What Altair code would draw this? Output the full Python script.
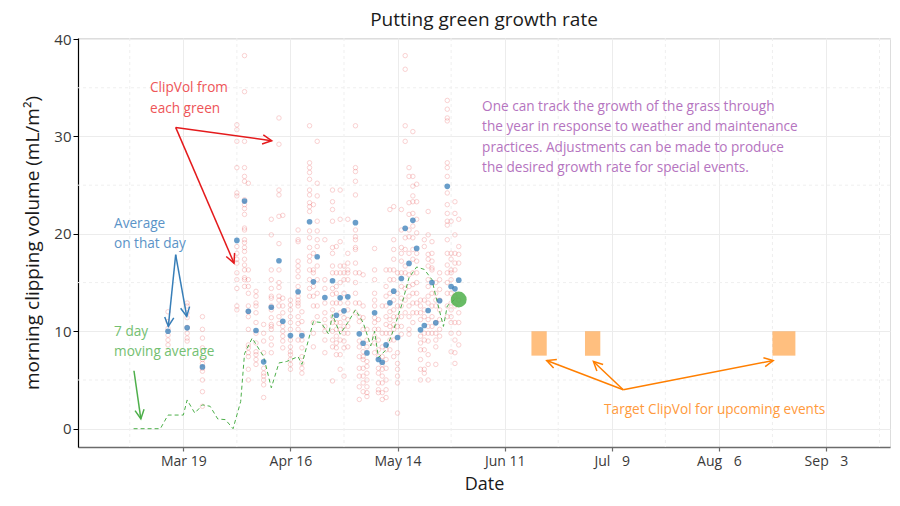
import math
import pandas as pd
import altair as alt

FONT = "Open Sans"
BASE = pd.Timestamp("2021-03-19")

# ---------------- data ----------------
day_dates = ["2021-03-15", "2021-03-20", "2021-03-24", "2021-04-02", "2021-04-04", "2021-04-05",
             "2021-04-07", "2021-04-09", "2021-04-11", "2021-04-13", "2021-04-14", "2021-04-16",
             "2021-04-18", "2021-04-19", "2021-04-21", "2021-04-22", "2021-04-23", "2021-04-25",
             "2021-04-27", "2021-04-28", "2021-04-29", "2021-04-30", "2021-05-01", "2021-05-03",
             "2021-05-04", "2021-05-05", "2021-05-06", "2021-05-08", "2021-05-09", "2021-05-10",
             "2021-05-11", "2021-05-12", "2021-05-13", "2021-05-14", "2021-05-15", "2021-05-16",
             "2021-05-17", "2021-05-18", "2021-05-19", "2021-05-20", "2021-05-21", "2021-05-22",
             "2021-05-23", "2021-05-24", "2021-05-25", "2021-05-27", "2021-05-28", "2021-05-29",
             "2021-05-30"]

day_average = [10.0, 10.35, 6.34, 19.33, 23.37, 12.06, 10.08, 6.86, 12.47, 17.24, 11.03, 9.56,
               14.06, 9.56, 21.25, 15.08, 17.65, 13.47, 15.19, 11.65, 13.44, 12.1, 13.54, 21.15,
               9.74, 8.77, 7.78, 11.9, 7.1, 6.82, 8.6, 12.92, 14.12, 9.36, 15.42, 20.57,
               16.97, 21.39, 18.51, 10.15, 10.59, 12.13, 15.01, 10.87, 13.13, 24.88, 14.6, 14.36,
               15.25]

green_values = [
    [12.0, 11.0, 10.3, 9.6, 9.1, 8.6],
    [12.9, 12.6, 11.9, 11.4, 10.4, 9.8, 9.3, 9.0],
    [11.5, 10.2, 9.3, 8.3, 7.1, 6.7, 6.2, 5.9, 5.0, 3.8, 2.3],
    [31.2, 30.7, 29.5, 26.8, 24.2, 23.9, 18.7, 18.0, 17.4, 17.0, 16.0, 15.3, 14.4, 12.6, 12.2],
    [38.3, 34.6, 29.5, 26.8, 25.9, 25.4, 23.5, 23.0, 22.6, 22.0, 20.6, 20.4, 19.4, 19.1, 18.6,
     18.2, 17.4, 16.8, 16.3, 15.5, 15.3, 14.6],
    [25.2, 16.3, 15.3, 14.6, 13.9, 12.6, 12.0, 11.5, 10.2, 8.6, 8.3, 7.8, 7.4, 6.1, 5.0],
    [14.1, 13.6, 12.9, 12.6, 11.9, 10.9, 9.8, 8.8, 7.9, 7.6, 7.1, 6.6],
    [10.7, 9.8, 9.0, 7.8, 6.2, 5.7, 5.4, 5.0, 4.5, 3.2],
    [21.5, 19.9, 16.3, 15.3, 14.4, 13.6, 13.4, 12.6, 12.2, 11.4, 10.7, 10.5, 10.2, 9.3, 8.6, 7.8],
    [31.9, 29.2, 24.5, 24.0, 21.8, 19.0, 16.3, 15.0, 14.5, 13.6, 13.2, 12.6, 11.5, 10.8],
    [21.9, 13.4, 12.6, 11.9, 10.5, 10.0, 9.5, 9.0, 8.3],
    [13.2, 12.7, 12.2, 11.5, 10.9, 10.2, 9.1, 8.4, 7.9, 7.6, 7.1, 6.6, 6.1],
    [20.4, 19.4, 19.2, 17.2, 16.7, 16.2, 15.6, 14.6, 13.6, 13.2, 12.9, 12.6, 11.5, 10.8, 10.2, 9.1],
    [12.0, 11.0, 9.8, 9.1, 8.3, 7.4, 6.7, 6.2, 5.7],
    [31.1, 27.3, 26.8, 26.3, 25.6, 24.5, 24.0, 23.2, 22.8, 22.3, 20.3, 19.6, 18.6, 17.7, 17.2,
     16.3, 15.3, 14.4, 13.6],
    [23.0, 18.0, 16.3, 16.0, 14.6, 13.6, 12.6, 10.9, 9.8, 8.4],
    [29.5, 25.2, 23.9, 21.3, 20.3, 19.4, 18.7, 16.7, 15.3, 13.9, 12.6, 11.5],
    [19.4, 15.3, 14.4, 12.9, 11.9, 11.2, 10.5, 10.0, 9.1, 7.8],
    [24.5, 23.3, 22.5, 21.3, 18.6, 18.0, 16.7, 16.0, 14.4, 13.8, 12.9, 12.2, 11.5, 10.9, 10.0,
     9.1, 8.4, 4.9],
    [18.7, 16.0, 14.6, 13.9, 12.9, 10.9, 10.2, 9.5, 8.8, 8.3, 7.6],
    [24.5, 21.5, 19.2, 16.7, 16.0, 15.0, 12.9, 11.9, 10.9, 10.2, 9.1, 7.6, 6.1],
    [16.7, 16.0, 15.3, 13.9, 11.4, 10.5, 9.8, 9.0, 8.3, 5.4],
    [21.5, 18.0, 17.0, 16.3, 16.0, 15.3, 12.9, 12.2, 11.2, 10.5, 9.8, 8.4],
    [31.1, 26.8, 26.4, 25.4, 24.0, 20.4, 19.7, 19.4, 18.6, 18.4, 17.0, 16.0, 15.0, 13.9, 12.9, 11.9],
    [16.0, 12.9, 11.5, 11.0, 9.0, 8.4, 7.4, 6.2, 5.4, 4.3, 3.0],
    [15.8, 12.6, 11.4, 10.2, 7.9, 7.4, 7.1, 6.2, 5.4, 4.7, 3.8],
    [10.2, 9.1, 8.4, 6.9, 6.4, 5.7, 5.0, 4.3, 3.7, 3.3],
    [18.5, 16.3, 15.3, 13.9, 13.2, 12.6, 11.4, 10.9, 10.2, 9.5, 8.8, 7.8],
    [11.2, 10.2, 9.1, 8.1, 7.4, 6.2, 5.7, 4.7, 4.0, 3.7],
    [12.6, 9.8, 8.4, 7.4, 6.6, 6.1, 5.4, 4.7, 3.7, 3.0],
    [16.3, 14.6, 13.6, 12.6, 11.5, 10.7, 9.8, 8.1, 7.1, 6.2, 5.0, 4.0, 3.2],
    [22.5, 16.3, 15.3, 13.9, 12.0, 11.2, 10.5, 9.8, 9.1, 8.1],
    [22.8, 19.4, 18.4, 17.4, 16.3, 15.3, 13.2, 12.2, 11.5, 10.7, 10.2, 9.1, 7.4],
    [16.0, 13.9, 12.6, 11.5, 10.5, 7.8, 6.7, 6.1, 5.4, 4.7, 1.6],
    [22.5, 20.4, 18.6, 18.0, 17.2, 16.0, 14.6, 13.4, 12.6, 11.5, 10.5, 9.7],
    [38.3, 36.9, 31.1, 29.5, 19.6, 18.4, 16.7, 16.0, 14.4, 13.2, 11.9],
    [26.8, 25.9, 23.2, 22.0, 20.4, 19.7, 18.0, 15.8, 14.6, 13.6, 12.6, 11.5, 10.2, 9.7],
    [30.5, 25.9, 24.9, 23.9, 23.3, 22.1, 20.8, 19.6, 18.4, 17.4, 16.0, 14.8, 13.9, 12.9, 11.9, 10.9],
    [25.1, 23.3, 21.5, 20.1, 18.0, 17.2, 16.0, 15.0, 13.9, 12.9, 11.9],
    [13.2, 12.6, 11.9, 11.2, 9.5, 8.8, 8.1, 7.1, 6.1, 5.0],
    [19.4, 18.7, 13.2, 12.2, 11.5, 9.8, 9.1, 8.1, 6.1, 5.7],
    [22.3, 19.9, 17.9, 17.4, 16.7, 15.3, 14.6, 13.6, 12.9, 11.2, 10.5, 9.8, 9.0, 7.6, 6.6, 5.0],
    [19.2, 18.0, 17.2, 16.5, 16.3, 13.9, 12.6, 11.5, 10.5, 9.8],
    [15.0, 13.9, 13.2, 12.6, 10.9, 9.8, 9.1, 8.4, 6.6],
    [16.0, 15.3, 14.3, 13.2, 12.2, 11.2, 10.2, 9.5],
    [33.7, 32.8, 31.9, 31.6, 27.3, 26.8, 25.9, 24.2, 23.0, 22.1, 21.3, 20.9, 19.4, 18.0, 16.8,
     16.0, 15.0, 13.9, 12.6, 11.5],
    [21.3, 18.0, 17.4, 16.3, 16.0, 15.3, 13.9, 12.9, 12.2, 11.5, 10.9, 9.8, 7.9],
    [23.3, 22.1, 19.9, 18.0, 17.0, 16.3, 13.6, 12.6, 10.9, 9.1, 7.8, 6.7],
    [21.5, 18.7, 17.9, 17.0, 13.2, 11.9, 10.9, 9.8, 8.6],
]

ma_dates = ["2021-03-06", "2021-03-13", "2021-03-15", "2021-03-19", "2021-03-20", "2021-03-22",
            "2021-03-24", "2021-03-26", "2021-03-28", "2021-03-30", "2021-04-01", "2021-04-03",
            "2021-04-04", "2021-04-06", "2021-04-09", "2021-04-11", "2021-04-13", "2021-04-15",
            "2021-04-18", "2021-04-19", "2021-04-22", "2021-04-24", "2021-04-26", "2021-04-27",
            "2021-04-29", "2021-05-01", "2021-05-03", "2021-05-05", "2021-05-07", "2021-05-08",
            "2021-05-09", "2021-05-11", "2021-05-13", "2021-05-15", "2021-05-17", "2021-05-19",
            "2021-05-21", "2021-05-23", "2021-05-24", "2021-05-26", "2021-05-27", "2021-05-29"]
ma_values = [0, 0, 1.4, 1.4, 2.95, 1.6, 2.45, 2.3, 1.0, 0.93, 0, 2.8,
             7.7, 9.3, 7.4, 4.2, 6.75, 6.9, 7.4, 6.6, 11.0, 10.9, 9.7, 11.7,
             9.7, 10.9, 12.2, 10.9, 8.5, 10.0, 7.3, 8.1, 10.2, 12.6, 15.5, 16.6,
             16.35, 15.3, 13.6, 10.5, 12.6, 13.3]

latest_date = ["2021-05-30"]
latest_value = [13.26]

target_start = ["2021-06-18", "2021-07-02", "2021-08-20"]
target_end = ["2021-06-22", "2021-07-06", "2021-08-26"]
target_low = [7.5, 7.5, 7.5]
target_high = [10.0, 10.0, 10.0]

# annotations (x as days from Mar 19, y in data units)
arrow_x0 = [-2.0, -2.0, -2.0, -2.0, -12.9, 115.0, 115.0, 115.0]
arrow_y0 = [30.93, 30.93, 17.86, 17.86, 5.95, 4.0, 4.0, 4.0]
arrow_x1 = [23.1, 13.25, -3.92, 0.89, -11.1, 95.0, 107.2, 154.2]
arrow_y1 = [29.57, 17.0, 10.5, 11.53, 1.0, 7.0, 6.9, 7.0]
arrow_col = ["#e41a1c", "#e41a1c", "#377eb8", "#377eb8", "#4daf4a", "#ff7f00", "#ff7f00", "#ff7f00"]

note_text = ["ClipVol from", "each green", "Average", "on that day", "7 day", "moving average",
             "One can track the growth of the grass through",
             "the year in response to weather and maintenance",
             "practices. Adjustments can be made to produce",
             "the desired growth rate for special events.",
             "Target ClipVol for upcoming events"]
note_x = [-8.7, -8.7, -18.1, -18.1, -18.1, -18.1, 78.1, 78.1, 78.1, 78.1, 110.0]
note_y = [35.0, 32.85, 21.05, 19.0, 9.96, 7.9, 33.06, 31.0, 28.85, 26.8, 1.95]
note_col = ["#ee5558", "#ee5558", "#5b93c7", "#5b93c7", "#74c071", "#74c071",
            "#b574c0", "#b574c0", "#b574c0", "#b574c0", "#ff9a3c"]

major_ticks = ["2021-03-19", "2021-04-16", "2021-05-14", "2021-06-11", "2021-07-09", "2021-08-06",
               "2021-09-03"]
minor_x = ["2021-03-05", "2021-04-02", "2021-04-30", "2021-05-28", "2021-06-25", "2021-07-23",
           "2021-08-20", "2021-09-17"]
minor_y = [5, 15, 25, 35]

# ---------------- geometry ----------------
W, H = 812, 409
X_LO, X_HI = -27.53, 184.73  # days from Mar 19
Y_LO, Y_HI = -1.88, 40.11
px_day = W / (X_HI - X_LO)
px_val = H / (Y_HI - Y_LO)


def iso(d):
    return pd.Timestamp(d).strftime("%Y-%m-%dT%H:%M:%SZ")


def iso_off(off):
    return (BASE + pd.Timedelta(days=off)).strftime("%Y-%m-%dT%H:%M:%SZ")


def ms(off):
    return float((BASE + pd.Timedelta(days=off) - pd.Timestamp("1970-01-01")).total_seconds() * 1000)


xscale = alt.Scale(type="utc", domain=[ms(X_LO), ms(X_HI)], nice=False)
yscale = alt.Scale(domain=[Y_LO, Y_HI], nice=False, zero=False)

label_expr = ("utcFormat(datum.value, '%b') + ' ' + (utcdate(datum.value) < 10 ? '\u2007' : '') "
              "+ utcdate(datum.value)")
xaxis = alt.Axis(
    title="Date", values=[ms((pd.Timestamp(t) - BASE).days) for t in major_ticks],
    labelExpr=label_expr, grid=True, gridColor="#ececec", gridWidth=1,
    domainColor="#6b6b6b", domainWidth=1.6, tickColor="#6b6b6b", tickSize=4, tickWidth=1.2,
    labelColor="#3a3a3a", labelFontSize=14, labelFont=FONT, labelPadding=3,
    titleFont=FONT, titleFontSize=18, titleFontWeight="normal", titleColor="#1a1a1a",
    titlePadding=7,
)
yaxis = alt.Axis(
    title="morning clipping volume (mL/m²)", values=[0, 10, 20, 30, 40], grid=True,
    gridColor="#ececec", gridWidth=1, domainColor="#000000", domainWidth=1.2,
    tickColor="#000000", tickSize=5, tickWidth=1, labelColor="#3a3a3a", labelFontSize=15,
    labelFont=FONT, labelPadding=2, titleFont=FONT, titleFontSize=19,
    titleFontWeight="normal", titleColor="#1a1a1a", titlePadding=11,
)


def X(field):
    return alt.X(field, type="temporal", scale=xscale, axis=xaxis)


def Y(field):
    return alt.Y(field, type="quantitative", scale=yscale, axis=yaxis)


# ---------------- tables ----------------
pts = pd.DataFrame([{"date": iso(d), "v": v} for d, vs in zip(day_dates, green_values) for v in vs])
avg = pd.DataFrame({"date": [iso(d) for d in day_dates], "v": day_average})
ma = pd.DataFrame({"date": [iso(d) for d in ma_dates], "v": ma_values})
latest = pd.DataFrame({"date": [iso(d) for d in latest_date], "v": latest_value})
targets = pd.DataFrame({"date": [iso(d) for d in target_start], "date2": [iso(d) for d in target_end],
                        "v": target_low, "v2": target_high})

angles = []
for a, b, c, d in zip(arrow_x0, arrow_y0, arrow_x1, arrow_y1):
    dx = (c - a) * px_day
    dy = -(d - b) * px_val
    angles.append(math.degrees(math.atan2(dx, -dy)) % 360)
arrows = pd.DataFrame({"date": [iso_off(o) for o in arrow_x0], "v": arrow_y0,
                       "date2": [iso_off(o) for o in arrow_x1], "v2": arrow_y1,
                       "col": arrow_col, "angle": angles})
notes = pd.DataFrame({"date": [iso_off(o) for o in note_x], "v": note_y, "txt": note_text,
                      "col": note_col})
mx = pd.DataFrame({"date": [iso(d) for d in minor_x]})
my = pd.DataFrame({"v": minor_y})

# ---------------- layers ----------------
minor_v = alt.Chart(mx).mark_rule(color="#efefef", strokeWidth=1, strokeDash=[3, 3]).encode(x=X("date"))
minor_h = alt.Chart(my).mark_rule(color="#efefef", strokeWidth=1, strokeDash=[3, 3]).encode(y=Y("v"))

red_pts = alt.Chart(pts).mark_point(shape="circle", filled=False, size=20, strokeWidth=0.9,
                                    color="#e41a1c", opacity=0.22).encode(x=X("date"), y=Y("v"))
ma_line = alt.Chart(ma).mark_line(color="#4daf4a", strokeWidth=1.0, strokeDash=[4, 3]).encode(
    x=X("date"), y=Y("v"))
blue_pts = alt.Chart(avg).mark_circle(size=32, color="#377eb8", opacity=0.75).encode(
    x=X("date"), y=Y("v"))
latest_pt = alt.Chart(latest).mark_circle(size=250, color="#4daf4a", opacity=0.85).encode(
    x=X("date"), y=Y("v"))
rects = alt.Chart(targets).mark_rect(color="#ff7f00", opacity=0.5).encode(
    x=X("date"), x2="date2:T", y=Y("v"), y2="v2:Q")

shafts = alt.Chart(arrows).mark_rule(strokeWidth=1.5).encode(
    x=X("date"), x2="date2:T", y=Y("v"), y2="v2:Q",
    color=alt.Color("col:N", scale=None))
heads = alt.Chart(arrows).mark_point(shape="M-0.5,1L0,0L0.5,1", filled=False, size=330,
                                     strokeWidth=1.5, opacity=1).encode(
    x=X("date2"), y=Y("v2"), angle=alt.Angle("angle:Q", scale=None),
    color=alt.Color("col:N", scale=None))
texts = alt.Chart(notes).mark_text(align="left", baseline="middle", font=FONT, fontSize=13.6).encode(
    x=X("date"), y=Y("v"), text="txt:N", color=alt.Color("col:N", scale=None))

chart = alt.layer(minor_v, minor_h, red_pts, ma_line, blue_pts, latest_pt, rects, shafts, heads,
                  texts).properties(
    width=W, height=H,
    title=alt.TitleParams("Putting green growth rate", font=FONT, fontSize=19, fontWeight=500,
                          color="#1a1a1a", anchor="middle", offset=2),
    autosize=alt.AutoSizeParams(type="none"),
    padding={"left": 70, "top": 30, "right": 2, "bottom": 46},
).configure_view(stroke=None).configure(font=FONT)

chart.save("out.html", embed_options={"renderer": "svg", "actions": False})
